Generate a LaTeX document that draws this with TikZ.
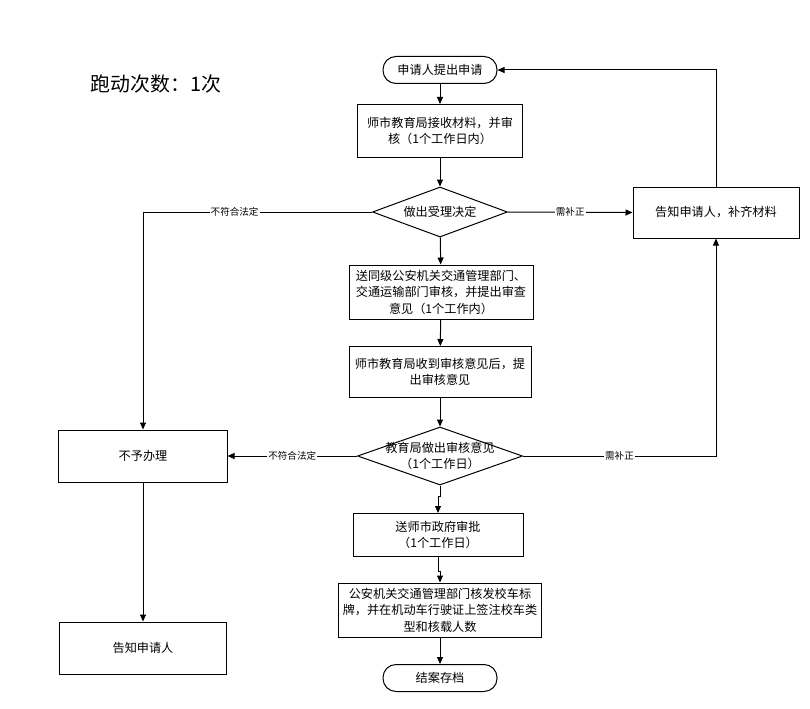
\documentclass[tikz,border=0pt]{standalone}
\usepackage{fontspec}
\setmainfont{Noto Sans CJK SC}
\usetikzlibrary{shapes.geometric,arrows.meta,positioning}

\begin{document}
\begin{tikzpicture}[x=1bp,y=-1bp,
	every node/.style={font=\fontsize{12.2}{16.5}\selectfont,align=center},
	proc/.style={draw,line width=1bp,fill=white,inner sep=0pt},
	term/.style={draw,line width=1bp,rounded corners=13bp,minimum width=114bp,minimum height=27bp,inner sep=0pt},
	dec/.style={draw,line width=1bp,diamond,inner sep=0pt},
	lab/.style={font=\fontsize{9.6}{10}\selectfont,fill=white,inner sep=1pt},
	arr/.style={line width=1bp,-{Triangle[length=7bp,width=6bp]}}]
	\useasboundingbox (0,0) rectangle (810,709);
	\node[font=\fontsize{20}{24}\selectfont] (title) at (156,84) {跑动次数：1次};
	% main column
	\node[term] (s) at (440,70) {申请人提出申请};
	\node[proc,minimum width=165bp,minimum height=53bp] (b1) at (440,131) {师市教育局接收材料，并审\\核（1个工作日内）};
	\node[dec,minimum width=135bp,minimum height=50bp] (d1) at (440,212) {};
	\node (d1t) at (d1.center) {做出受理决定};
	\node[proc,minimum width=184bp,minimum height=54bp] (b2) at (441,292) {送同级公安机关交通管理部门、\\交通运输部门审核，并提出审查\\意见（1个工作内）};
	\node[proc,minimum width=182bp,minimum height=51bp] (b3) at (440,372) {师市教育局收到审核意见后，提\\出审核意见};
	\node[dec,minimum width=165bp,minimum height=58bp] (d2) at (440,456) {};
	\node (d2t) at (d2.center) {教育局做出审核意见\\（1个工作日）};
	\node[proc,minimum width=170bp,minimum height=43bp] (b4) at (438,535) {送师市政府审批\\（1个工作日）};
	\node[proc,minimum width=203bp,minimum height=54bp] (b5) at (440,610) {公安机关交通管理部门核发校车标\\牌，并在机动车行驶证上签注校车类\\型和核载人数};
	\node[term] (e) at (440,678) {结案存档};
	% side boxes
	\node[proc,minimum width=166bp,minimum height=51bp] (fix) at (716,212.5) {告知申请人，补齐材料};
	\node[proc,minimum width=168bp,minimum height=52bp] (no) at (143,456) {不予办理};
	\node[proc,minimum width=167bp,minimum height=52bp] (tell) at (143,648) {告知申请人};

	\draw[arr] (s) -- (b1);
	\draw[arr] (b1) -- (d1);
	\draw[arr] (d1) -- (b2);
	\draw[arr] (b2) -- (b3);
	\draw[arr] (b3) -- (d2);
	\draw[arr] (d2.south) -- ++(0,11) -| (b4.north);
	\draw[arr] (b4.south) -- ++(0,14) -| (b5.north);
	\draw[arr] (b5) -- (e);
	\draw[arr] (d1.west) -| (no.north) node[lab,pos=0.3] {不符合法定};
	\draw[arr] (d1.east) -- (fix.west) node[lab,midway] {需补正};
	\draw[arr] (fix.north) |- (s.east);
	\draw[arr] (d2.west) -- (no.east) node[lab,midway] {不符合法定};
	\draw[arr] (d2.east) -| (fix.south) node[lab,pos=0.25] {需补正};
	\draw[arr] (no) -- (tell);
\end{tikzpicture}
\end{document}
